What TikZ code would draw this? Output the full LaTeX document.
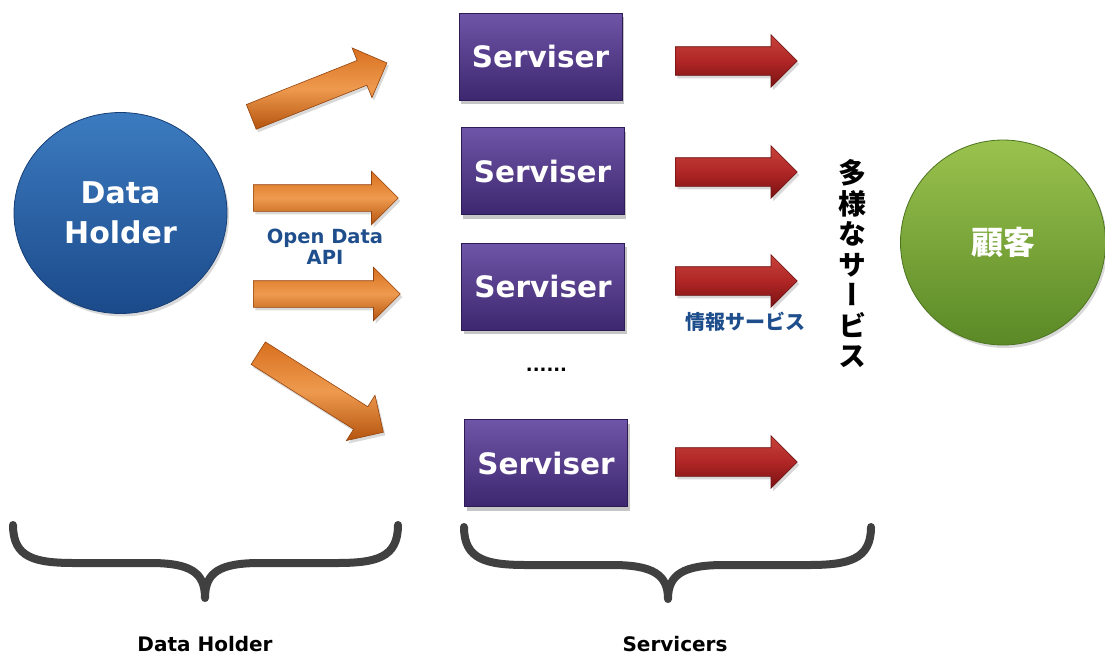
\documentclass[tikz,border=0pt]{standalone}
\usepackage{fontspec}
\setmainfont{DejaVu Sans}
\newfontfamily\jp{Noto Sans CJK JP}
\newfontfamily\jpvert[RawFeature=+vert]{Noto Sans CJK JP}
\usetikzlibrary{shapes.geometric,shapes.arrows,shadows}

\definecolor{bluetop}{HTML}{3C7BC0}
\definecolor{bluebot}{HTML}{1B4A8A}
\definecolor{blueedge}{HTML}{173F75}
\definecolor{greentop}{HTML}{9AC24E}
\definecolor{greenbot}{HTML}{5A8926}
\definecolor{greenedge}{HTML}{4C7420}
\definecolor{purptop}{HTML}{6F55A7}
\definecolor{purpbot}{HTML}{3D276F}
\definecolor{purpedge}{HTML}{2C1B55}
\definecolor{orangetop}{HTML}{D8701F}
\definecolor{orangemid}{HTML}{EE9A4E}
\definecolor{orangebot}{HTML}{B5540F}
\definecolor{orangeedge}{HTML}{94440E}
\definecolor{redtop}{HTML}{C8433B}
\definecolor{redmid}{HTML}{B02626}
\definecolor{redbot}{HTML}{7A1111}
\definecolor{rededge}{HTML}{661010}
\definecolor{labelblue}{HTML}{1F4E8C}
\definecolor{bracegray}{HTML}{404040}

\tikzset{
  softshadow/.style={drop shadow={opacity=0.3, shadow xshift=2pt, shadow yshift=-3pt}},
  holder/.style={ellipse, draw=blueedge, line width=0.8pt,
    top color=bluetop, bottom color=bluebot,
    minimum width=213pt, minimum height=201pt, inner sep=0pt,
    text=white, align=center, font=\bfseries\fontsize{30}{40}\selectfont, softshadow},
  customer/.style={ellipse, draw=greenedge, line width=0.8pt,
    top color=greentop, bottom color=greenbot,
    minimum width=205pt, minimum height=205pt, inner sep=0pt,
    text=white, font=\jp\bfseries\fontsize{32}{32}\selectfont, softshadow},
  svbox/.style={rectangle, draw=purpedge, line width=0.6pt,
    top color=purptop, bottom color=purpbot,
    minimum width=163pt, minimum height=87pt, inner sep=0pt,
    text=white, font=\bfseries\fontsize{29.5}{34}\selectfont,
    drop shadow={opacity=0.45, shadow xshift=2pt, shadow yshift=-4pt}},
  oarrow/.style={single arrow, anchor=tail, draw=orangeedge, line width=0.6pt,
    top color=orangetop, bottom color=orangebot, middle color=orangemid,
    minimum height=#1, minimum width=0pt, inner xsep=0pt, inner ysep=13pt,
    text height=0pt, text depth=0pt,
    single arrow head extend=13.5pt, single arrow tip angle=90, softshadow},
  rarrow/.style={single arrow, anchor=tail, draw=rededge, line width=0.6pt,
    top color=redtop, bottom color=redbot, middle color=redmid,
    minimum height=122pt, minimum width=0pt, inner xsep=0pt, inner ysep=14pt,
    text height=0pt, text depth=0pt,
    single arrow head extend=12pt, single arrow tip angle=90, softshadow},
  bluelabel/.style={text=labelblue, align=center, inner sep=0pt},
  caption/.style={font=\bfseries\fontsize{20}{20}\selectfont, inner sep=0pt},
  brace/.style={draw=bracegray, line width=8pt, line cap=round, line join=round},
}

\begin{document}
\begin{tikzpicture}[x=1pt, y=-1pt]
\useasboundingbox (0,0) rectangle (1105,657);

% data holder and customer
\node[holder] (holder) at (120.5,213) {Data\\Holder};
\node[customer] (cust) at (1003,242.5) {顧客};

% open data arrows (placed by their tails)
\node[oarrow=146pt, rotate=21.7] (oa1) at (251,117) {};
\node[oarrow=145pt] (oa2) at (253,198) {};
\node[oarrow=147pt] (oa3) at (253,294) {};
\node[oarrow=148pt, rotate=-32.3] (oa4) at (258,353) {};
\node[bluelabel, font=\bfseries\fontsize{19.5}{21}\selectfont] (api) at (325,247) {Open Data\\API};

% servisers
\node[svbox] (s1) at (540.5,56.5) {Serviser};
\node[svbox] (s2) at (542.5,171) {Serviser};
\node[svbox] (s3) at (543,286.5) {Serviser};
\node[svbox] (s4) at (546,463) {Serviser};
\node[font=\bfseries\fontsize{18}{18}\selectfont, anchor=base, inner sep=0pt] (dots) at (546.5,371) {......};

% information service arrows
\node[rarrow] (r1) at (675,61) {};
\node[rarrow] (r2) at (675,172) {};
\node[rarrow] (r3) at (675,281) {};
\node[rarrow] (r4) at (675,462) {};
\node[bluelabel, font=\jp\bfseries\fontsize{20}{20}\selectfont] (info) at (745,322) {情報サービス};

% vertical caption
\node[font=\jpvert\bfseries\fontsize{28}{30.5}\selectfont, align=center, inner sep=0pt] (variety) at (852,264) {多\\様\\な\\サ\\ー\\ビ\\ス};

% braces
\coordinate (lb1) at (13,525);
\coordinate (lbtip) at (205,598);
\coordinate (lb2) at (398,525);
\path[brace] (lb1) .. controls (13,558) and (35,563) .. (75,563)
  -- (150,563) .. controls (190,563) and (205,572) .. (lbtip)
  .. controls (205,572) and (220,563) .. (260,563)
  -- (336,563) .. controls (376,563) and (398,558) .. (lb2);

\coordinate (rb1) at (464,527);
\coordinate (rbtip) at (668,599);
\coordinate (rb2) at (871,527);
\path[brace] (rb1) .. controls (464,560) and (487,565) .. (527,565)
  -- (612,565) .. controls (652,565) and (668,574) .. (rbtip)
  .. controls (668,574) and (684,565) .. (724,565)
  -- (808,565) .. controls (848,565) and (871,560) .. (rb2);

\node[caption] (capholder) at (205,644) {Data Holder};
\node[caption] (capserv) at (675,644) {Servicers};
\end{tikzpicture}
\end{document}
